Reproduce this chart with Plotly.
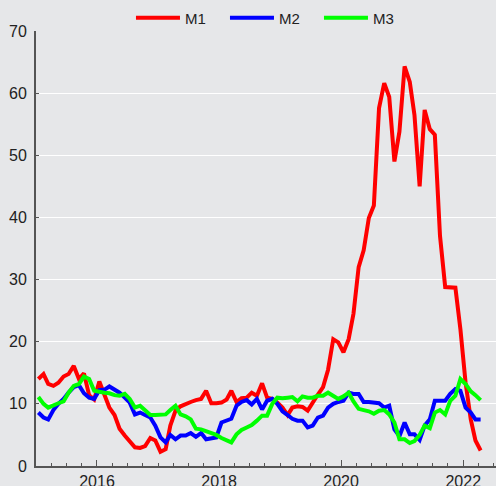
import plotly.graph_objects as go
import pandas as pd

dates = pd.date_range("2015-01-01", periods=88, freq="MS") + pd.Timedelta(days=14)

m1 = [14.0, 14.8, 13.2, 12.9, 13.4, 14.4, 14.8, 16.1, 14.0, 14.9, 11.4, 10.7,
      13.6, 11.4, 9.4, 8.2, 6.0, 4.9, 3.9, 3.0, 2.9, 3.2, 4.5, 4.1,
      2.3, 2.7, 6.5, 8.9, 9.6, 10.0, 10.3, 10.6, 10.8, 12.1, 10.1, 10.1,
      10.2, 10.7, 12.1, 10.3, 10.9, 11.0, 11.8, 11.3, 13.3, 11.0, 10.8, 10.2,
      9.4, 8.2, 9.4, 9.6, 9.5, 8.9, 10.3, 11.5, 12.7, 15.5, 20.4, 19.9,
      18.3, 20.4, 24.5, 32.0, 34.7, 39.9, 41.9, 57.6, 61.6, 59.4, 49.0, 53.8,
      64.3, 61.8, 56.5, 45.0, 57.3, 54.2, 53.3, 37.0, 28.8, 28.8, 28.7, 22.0,
      13.4, 7.5, 4.1, 2.5]

m2 = [8.6, 7.8, 7.5, 9.0, 10.0, 10.8, 11.8, 12.7, 13.0, 11.7, 11.0, 10.8,
      12.2, 12.3, 12.8, 12.3, 11.8, 11.0, 10.2, 8.3, 8.6, 8.2, 7.8, 6.5,
      4.6, 3.8, 5.0, 4.3, 4.9, 4.9, 5.3, 4.7, 5.3, 4.3, 4.4, 4.6,
      7.0, 7.4, 7.6, 9.7, 10.3, 10.6, 9.9, 10.8, 9.1, 10.5, 10.8, 10.0,
      8.8, 8.2, 7.6, 7.3, 7.3, 6.2, 6.5, 7.8, 8.1, 9.4, 10.0, 10.3,
      10.5, 11.8, 11.6, 11.6, 10.3, 10.3, 10.2, 10.1, 9.4, 9.7, 5.9, 4.8,
      7.0, 5.1, 5.1, 4.2, 6.5, 7.5, 10.5, 10.5, 10.5, 11.6, 12.4, 12.1,
      9.4, 8.6, 7.5, 7.5]

m3 = [11.1, 10.0, 9.4, 9.8, 10.1, 10.4, 11.8, 12.9, 13.2, 14.4, 14.0, 12.1,
      11.9, 11.8, 11.7, 11.4, 11.3, 11.6, 10.8, 9.4, 9.7, 8.9, 8.2, 8.2,
      8.3, 8.3, 9.0, 9.7, 8.3, 8.0, 7.5, 6.0, 5.9, 5.6, 5.4, 5.0,
      4.5, 4.1, 3.8, 5.1, 5.8, 6.2, 6.6, 7.3, 8.1, 8.1, 10.0, 11.0,
      10.9, 11.0, 11.1, 10.4, 11.2, 11.0, 11.0, 11.3, 11.3, 11.8, 11.3, 10.8,
      11.2, 11.8, 10.4, 9.2, 9.0, 8.8, 8.4, 8.9, 9.0, 8.3, 7.0, 4.3,
      4.3, 3.7, 4.0, 5.0, 6.5, 6.1, 8.6, 9.0, 8.3, 10.5, 11.3, 14.0,
      13.2, 12.0, 11.4, 10.6]

series = [("M1", m1, "#ff0000"), ("M2", m2, "#0000ff"), ("M3", m3, "#00ff00")]

label_years = ["2016", "2018", "2020", "2022"]
grid_years = ["2017", "2019", "2021"]

bg = "#e6e7e9"
axis_col = "#555555"
font_fam = "Liberation Sans, Arial, sans-serif"

fig = go.Figure()
for name, vals, col in series:
    fig.add_trace(go.Scatter(x=dates, y=vals, name=name, mode="lines",
                             line=dict(color=col, width=4)))

x_range = ["2015-01-01", "2022-07-16"]

fig.update_layout(
    width=496, height=486,
    margin=dict(l=36, r=0, t=31, b=20, autoexpand=False),
    paper_bgcolor=bg, plot_bgcolor=bg,
    font=dict(family=font_fam, size=16, color="#222222"),
    showlegend=True,
    legend=dict(orientation="h", x=0.513, xanchor="center", y=1.03, yanchor="middle",
                font=dict(size=15), bgcolor="rgba(0,0,0,0)", itemwidth=44,
                entrywidth=35, entrywidthmode="pixels"),
    xaxis=dict(type="date", range=x_range,
               tickvals=[f"{y}-01-01" for y in label_years], ticktext=label_years,
               ticks="inside", ticklen=6, tickcolor=axis_col, tickwidth=1,
               showgrid=False, showline=True, linecolor=axis_col, linewidth=2,
               zeroline=False, automargin=False,
               minor=dict(dtick="M3", tick0="2015-01-01", ticks="inside", ticklen=3,
                          tickcolor=axis_col, showgrid=False)),
    xaxis2=dict(type="date", range=x_range, overlaying="x", side="bottom",
                tickvals=[f"{y}-01-01" for y in grid_years],
                showticklabels=False, ticks="", showgrid=True, gridcolor="white",
                gridwidth=1, showline=False, zeroline=False, automargin=False),
    yaxis=dict(range=[0, 70], dtick=10, ticks="inside", ticklen=3, tickcolor=axis_col,
               showline=True, linecolor=axis_col, linewidth=2, gridcolor="white",
               gridwidth=1, zeroline=False, ticklabelstandoff=4, automargin=False),
)

fig.write_html("out.html",
               config={"displayModeBar": False},
               post_script="document.body.style.margin='0';"
                           "document.body.style.background='#e6e7e9';")
